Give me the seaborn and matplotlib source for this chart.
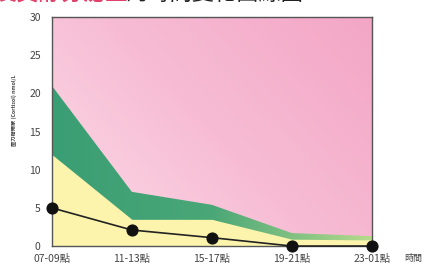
import numpy as np
import matplotlib
matplotlib.use('Agg')
import matplotlib.pyplot as plt
from matplotlib.colors import LinearSegmentedColormap
import seaborn as sns

# data
time_labels = ['07-09點', '11-13點', '15-17點', '19-21點', '23-01點']
cortisol = [5.0, 2.1, 1.1, 0.0, 0.0]          # black line
yellow_top = [12.0, 3.5, 3.5, 0.9, 0.8]       # lower band
green_top = [21.0, 7.1, 5.4, 1.7, 1.3]        # upper band
y_ticks = [0, 5, 10, 15, 20, 25, 30]

sns.set_style('white')
plt.rcParams['font.family'] = ['Noto Sans CJK TC', 'DejaVu Sans']

fig = plt.figure(figsize=(4.25, 2.66), dpi=100)
ax = fig.add_axes([0.122, 0.075, 0.753, 0.861])
x = np.arange(len(time_labels))
ax.set_xlim(0, 4)
ax.set_ylim(0, 30)

# pink gradient background (light lower-left -> darker upper-right)
pink = LinearSegmentedColormap.from_list('pink', ['#fcdbe7', '#f7bcd4', '#f3a6c6'])
gx, gy = np.meshgrid(np.linspace(0, 1, 200), np.linspace(0, 1, 200))
ax.imshow(0.6 * gx + 0.4 * gy, extent=[0, 4, 0, 30], origin='lower',
          aspect='auto', cmap=pink, zorder=0)

# green band with left-to-right gradient
green = LinearSegmentedColormap.from_list('green', ['#3a9e74', '#4aa777', '#b7da8c'])
poly = ax.fill_between(x, 0, green_top, facecolor='none', edgecolor='none', zorder=1)
im = ax.imshow(np.tile(np.linspace(0, 1, 200), (2, 1)), extent=[0, 4, 0, 30],
               origin='lower', aspect='auto', cmap=green, zorder=1)
im.set_clip_path(poly.get_paths()[0], transform=ax.transData)

# yellow band
ax.fill_between(x, 0, yellow_top, color='#fcf4ad', linewidth=0, zorder=2)

# cortisol line with dots
sns.lineplot(x=x, y=cortisol, ax=ax, color='#222222', linewidth=1.2,
             marker='o', markersize=8, markeredgecolor='#111111',
             markerfacecolor='#111111', zorder=4)
for ln in ax.lines:
    ln.set_clip_on(False)

ax.set_xticks(x)
ax.set_xticklabels(time_labels)
ax.set_yticks(y_ticks)
ax.tick_params(axis='both', length=0, labelsize=7.5, colors='#444444')
ax.tick_params(axis='x', pad=6)
ax.tick_params(axis='y', pad=8)
for s in ax.spines.values():
    s.set_color('#555555')
    s.set_linewidth(1.0)

fig.text(14 / 425, 0.586, '壓力荷爾蒙 (Cortisol) nmol/L', rotation=90,
         ha='center', va='center', fontsize=3.8, fontweight='bold', color='#444444')
fig.text(404 / 425, 1 - 258 / 266, '時間', ha='left', va='center',
         fontsize=6.5, color='#444444')

# title, cut off at the top edge as in the reference
fig.text(-0.012, 1.0, '皮質醇分泌量', ha='left', va='baseline',
         fontsize=16, color='#e0406a', fontweight='bold')
fig.text(125 / 425, 1.0, '的時間變化曲線圖', ha='left', va='baseline',
         fontsize=16, color='#222222')

fig.savefig('out.png', dpi=100)
